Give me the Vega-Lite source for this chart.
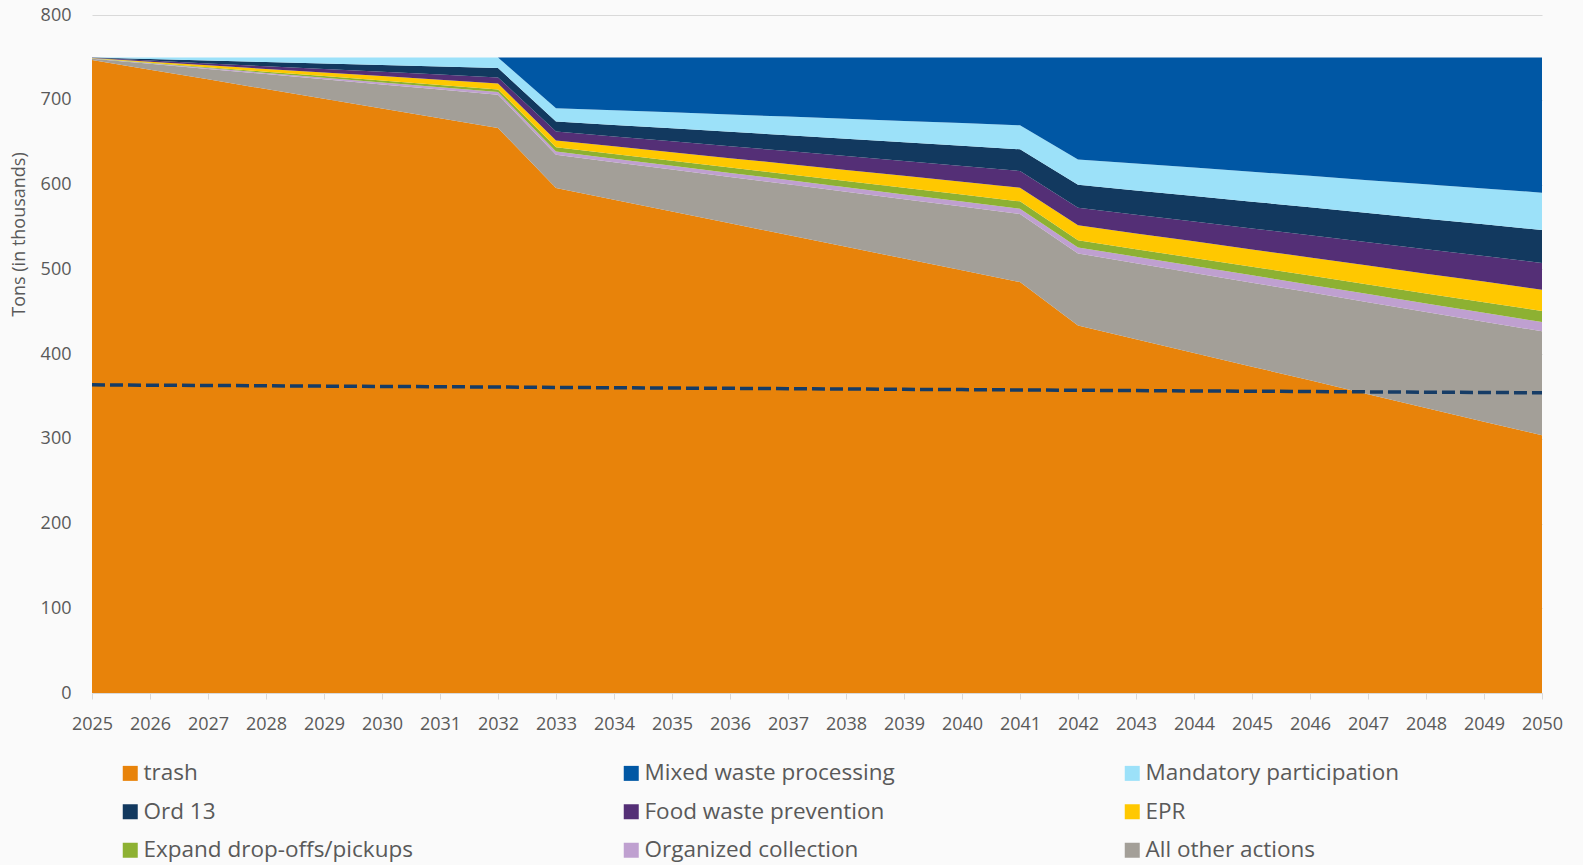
{
  "$schema": "https://vega.github.io/schema/vega-lite/v6.json",
  "width": 1450,
  "height": 678,
  "autosize": {"type": "none"},
  "padding": {"left": 92, "top": 15, "right": 41, "bottom": 172},
  "background": "#fafafa",
  "config": {
    "font": "Open Sans",
    "view": {"stroke": null},
    "axis": {"labelColor": "#595959", "titleColor": "#595959", "labelFont": "Open Sans", "titleFont": "Open Sans"},
    "legend": {"labelFont": "Open Sans"}
  },
  "datasets": {
    "areas": [
      {"year": 2025, "trash": 747.0, "All other actions": 1.5, "Organized collection": 0.2, "Expand drop-offs/pickups": 0.2, "EPR": 0.3, "Food waste prevention": 0.3, "Ord 13": 0.3, "Mandatory participation": 0.2, "Mixed waste processing": 0},
      {"year": 2026, "trash": 735.5, "All other actions": 6.9, "Organized collection": 0.6, "Expand drop-offs/pickups": 0.6, "EPR": 1.3, "Food waste prevention": 1.3, "Ord 13": 1.8, "Mandatory participation": 2.0, "Mixed waste processing": 0},
      {"year": 2027, "trash": 724.1, "All other actions": 12.3, "Organized collection": 1.0, "Expand drop-offs/pickups": 1.0, "EPR": 2.2, "Food waste prevention": 2.2, "Ord 13": 3.4, "Mandatory participation": 3.8, "Mixed waste processing": 0},
      {"year": 2028, "trash": 712.6, "All other actions": 17.7, "Organized collection": 1.4, "Expand drop-offs/pickups": 1.4, "EPR": 3.2, "Food waste prevention": 3.2, "Ord 13": 4.9, "Mandatory participation": 5.6, "Mixed waste processing": 0},
      {"year": 2029, "trash": 701.1, "All other actions": 23.1, "Organized collection": 1.9, "Expand drop-offs/pickups": 1.9, "EPR": 4.2, "Food waste prevention": 4.2, "Ord 13": 6.4, "Mandatory participation": 7.2, "Mixed waste processing": 0},
      {"year": 2030, "trash": 689.6, "All other actions": 28.5, "Organized collection": 2.3, "Expand drop-offs/pickups": 2.3, "EPR": 5.2, "Food waste prevention": 5.2, "Ord 13": 7.9, "Mandatory participation": 9.0, "Mixed waste processing": 0},
      {"year": 2031, "trash": 678.2, "All other actions": 33.9, "Organized collection": 2.7, "Expand drop-offs/pickups": 2.7, "EPR": 6.1, "Food waste prevention": 6.1, "Ord 13": 9.5, "Mandatory participation": 10.8, "Mixed waste processing": 0},
      {"year": 2032, "trash": 666.7, "All other actions": 39.3, "Organized collection": 3.1, "Expand drop-offs/pickups": 3.1, "EPR": 7.1, "Food waste prevention": 7.1, "Ord 13": 11.0, "Mandatory participation": 12.6, "Mixed waste processing": 0},
      {"year": 2033, "trash": 595.8, "All other actions": 39.3, "Organized collection": 3.9, "Expand drop-offs/pickups": 5.1, "EPR": 7.9, "Food waste prevention": 10.6, "Ord 13": 11.8, "Mandatory participation": 15.7, "Mixed waste processing": 59.9},
      {"year": 2034, "trash": 581.9, "All other actions": 44.4, "Organized collection": 4.2, "Expand drop-offs/pickups": 5.6, "EPR": 8.9, "Food waste prevention": 11.7, "Ord 13": 13.5, "Mandatory participation": 17.3, "Mixed waste processing": 62.5},
      {"year": 2035, "trash": 568.1, "All other actions": 49.5, "Organized collection": 4.5, "Expand drop-offs/pickups": 6.0, "EPR": 10.0, "Food waste prevention": 12.9, "Ord 13": 15.3, "Mandatory participation": 18.9, "Mixed waste processing": 64.8},
      {"year": 2036, "trash": 554.2, "All other actions": 54.6, "Organized collection": 4.8, "Expand drop-offs/pickups": 6.5, "EPR": 11.0, "Food waste prevention": 14.0, "Ord 13": 17.0, "Mandatory participation": 20.4, "Mixed waste processing": 67.5},
      {"year": 2037, "trash": 540.4, "All other actions": 59.8, "Organized collection": 5.1, "Expand drop-offs/pickups": 6.9, "EPR": 12.0, "Food waste prevention": 15.2, "Ord 13": 18.7, "Mandatory participation": 22.0, "Mixed waste processing": 69.9},
      {"year": 2038, "trash": 526.5, "All other actions": 64.9, "Organized collection": 5.4, "Expand drop-offs/pickups": 7.4, "EPR": 13.0, "Food waste prevention": 16.3, "Ord 13": 20.4, "Mandatory participation": 23.6, "Mixed waste processing": 72.5},
      {"year": 2039, "trash": 512.6, "All other actions": 70.0, "Organized collection": 5.7, "Expand drop-offs/pickups": 7.8, "EPR": 14.1, "Food waste prevention": 17.4, "Ord 13": 22.2, "Mandatory participation": 25.2, "Mixed waste processing": 75.0},
      {"year": 2040, "trash": 498.8, "All other actions": 75.1, "Organized collection": 6.0, "Expand drop-offs/pickups": 8.3, "EPR": 15.1, "Food waste prevention": 18.6, "Ord 13": 23.9, "Mandatory participation": 26.7, "Mixed waste processing": 77.5},
      {"year": 2041, "trash": 484.9, "All other actions": 80.2, "Organized collection": 6.3, "Expand drop-offs/pickups": 8.7, "EPR": 16.1, "Food waste prevention": 19.7, "Ord 13": 25.6, "Mandatory participation": 28.3, "Mixed waste processing": 80.2},
      {"year": 2042, "trash": 433.7, "All other actions": 85.0, "Organized collection": 7.1, "Expand drop-offs/pickups": 8.3, "EPR": 17.7, "Food waste prevention": 20.8, "Ord 13": 27.1, "Mandatory participation": 29.9, "Mixed waste processing": 120.4},
      {"year": 2043, "trash": 417.5, "All other actions": 89.7, "Organized collection": 7.6, "Expand drop-offs/pickups": 8.9, "EPR": 18.6, "Food waste prevention": 22.1, "Ord 13": 28.6, "Mandatory participation": 31.7, "Mixed waste processing": 125.3},
      {"year": 2044, "trash": 401.3, "All other actions": 94.4, "Organized collection": 8.1, "Expand drop-offs/pickups": 9.5, "EPR": 19.6, "Food waste prevention": 23.5, "Ord 13": 30.1, "Mandatory participation": 33.5, "Mixed waste processing": 130.0},
      {"year": 2045, "trash": 385.1, "All other actions": 99.1, "Organized collection": 8.6, "Expand drop-offs/pickups": 10.1, "EPR": 20.5, "Food waste prevention": 24.8, "Ord 13": 31.5, "Mandatory participation": 35.2, "Mixed waste processing": 135.1},
      {"year": 2046, "trash": 368.9, "All other actions": 103.9, "Organized collection": 9.0, "Expand drop-offs/pickups": 10.7, "EPR": 21.5, "Food waste prevention": 26.2, "Ord 13": 33.0, "Mandatory participation": 37.0, "Mixed waste processing": 139.8},
      {"year": 2047, "trash": 352.6, "All other actions": 108.6, "Organized collection": 9.5, "Expand drop-offs/pickups": 11.2, "EPR": 22.4, "Food waste prevention": 27.5, "Ord 13": 34.5, "Mandatory participation": 38.8, "Mixed waste processing": 144.9},
      {"year": 2048, "trash": 336.4, "All other actions": 113.3, "Organized collection": 10.0, "Expand drop-offs/pickups": 11.8, "EPR": 23.3, "Food waste prevention": 28.8, "Ord 13": 36.0, "Mandatory participation": 40.6, "Mixed waste processing": 149.8},
      {"year": 2049, "trash": 320.2, "All other actions": 118.0, "Organized collection": 10.5, "Expand drop-offs/pickups": 12.4, "EPR": 24.3, "Food waste prevention": 30.2, "Ord 13": 37.4, "Mandatory participation": 42.3, "Mixed waste processing": 154.7},
      {"year": 2050, "trash": 304.0, "All other actions": 122.7, "Organized collection": 11.0, "Expand drop-offs/pickups": 13.0, "EPR": 25.2, "Food waste prevention": 31.5, "Ord 13": 38.9, "Mandatory participation": 44.1, "Mixed waste processing": 159.6}
    ],
    "stackorder": [
      {"series": "trash", "stack": 1},
      {"series": "All other actions", "stack": 2},
      {"series": "Organized collection", "stack": 3},
      {"series": "Expand drop-offs/pickups", "stack": 4},
      {"series": "EPR", "stack": 5},
      {"series": "Food waste prevention", "stack": 6},
      {"series": "Ord 13", "stack": 7},
      {"series": "Mandatory participation", "stack": 8},
      {"series": "Mixed waste processing", "stack": 9}
    ],
    "target": [
      {"year": 2025, "tons": 363.6}, {"year": 2026, "tons": 363.2}, {"year": 2027, "tons": 362.9}, {"year": 2028, "tons": 362.5},
      {"year": 2029, "tons": 362.1}, {"year": 2030, "tons": 361.7}, {"year": 2031, "tons": 361.4}, {"year": 2032, "tons": 361.0},
      {"year": 2033, "tons": 360.6}, {"year": 2034, "tons": 360.2}, {"year": 2035, "tons": 359.8}, {"year": 2036, "tons": 359.5},
      {"year": 2037, "tons": 359.1}, {"year": 2038, "tons": 358.7}, {"year": 2039, "tons": 358.3}, {"year": 2040, "tons": 358.0},
      {"year": 2041, "tons": 357.6}, {"year": 2042, "tons": 357.2}, {"year": 2043, "tons": 356.8}, {"year": 2044, "tons": 356.4},
      {"year": 2045, "tons": 356.1}, {"year": 2046, "tons": 355.7}, {"year": 2047, "tons": 355.3}, {"year": 2048, "tons": 354.9},
      {"year": 2049, "tons": 354.6}, {"year": 2050, "tons": 354.2}
    ]
  },
  "layer": [
    {
      "data": {"name": "areas"},
      "transform": [
        {"fold": ["trash", "All other actions", "Organized collection", "Expand drop-offs/pickups", "EPR", "Food waste prevention", "Ord 13", "Mandatory participation", "Mixed waste processing"], "as": ["series", "tons"]},
        {"lookup": "series", "from": {"data": {"name": "stackorder"}, "key": "series", "fields": ["stack"]}}
      ],
      "mark": {"type": "area", "interpolate": "linear"},
      "encoding": {
        "x": {
          "field": "year", "type": "quantitative",
          "scale": {"domain": [2025, 2050], "nice": false, "zero": false},
          "axis": {
            "title": null, "format": "d",
            "values": [2025,2026,2027,2028,2029,2030,2031,2032,2033,2034,2035,2036,2037,2038,2039,2040,2041,2042,2043,2044,2045,2046,2047,2048,2049,2050],
            "labelFontSize": 18, "labelPadding": 16, "labelFlush": false,
            "tickColor": "#d9d9d9", "tickSize": 6, "domainColor": "#d9d9d9", "grid": false
          }
        },
        "y": {
          "field": "tons", "type": "quantitative", "stack": "zero",
          "scale": {"domain": [0, 800], "nice": false},
          "axis": {
            "title": "Tons (in thousands)", "titleFontSize": 18, "titleFontWeight": "normal",
            "titleX": -73, "titleY": 219, "titleAlign": "center", "titleBaseline": "middle", "titleAngle": 270,
            "values": [0,100,200,300,400,500,600,700,800],
            "labelFontSize": 18, "labelPadding": 21,
            "domain": false, "ticks": false, "grid": true, "gridColor": "#d9d9d9", "gridWidth": 1
          }
        },
        "color": {
          "field": "series", "type": "nominal",
          "scale": {
            "domain": ["trash", "Mixed waste processing", "Mandatory participation", "Ord 13", "Food waste prevention", "EPR", "Expand drop-offs/pickups", "Organized collection", "All other actions"],
            "range": ["#E8830A", "#0057A4", "#9CE1F9", "#12395F", "#542F76", "#FFC800", "#8DB132", "#BFA0D0", "#A39F98"]
          },
          "legend": {
            "title": null, "orient": "none", "direction": "horizontal", "legendX": 27, "legendY": 747,
            "columns": 3, "gridAlign": "all", "columnPadding": 207, "rowPadding": 15.5,
            "symbolType": "square", "symbolSize": 225, "symbolStrokeWidth": 0, "symbolOpacity": 1,
            "labelFontSize": 22.5, "labelColor": "#595959", "labelOffset": 2, "labelLimit": 400
          }
        },
        "order": {"field": "stack", "type": "quantitative", "sort": "ascending"}
      }
    },
    {
      "data": {"name": "target"},
      "mark": {"type": "line", "strokeDash": [13, 5], "strokeWidth": 3.5, "color": "#163C66"},
      "encoding": {
        "x": {"field": "year", "type": "quantitative"},
        "y": {"field": "tons", "type": "quantitative"}
      }
    }
  ]
}
